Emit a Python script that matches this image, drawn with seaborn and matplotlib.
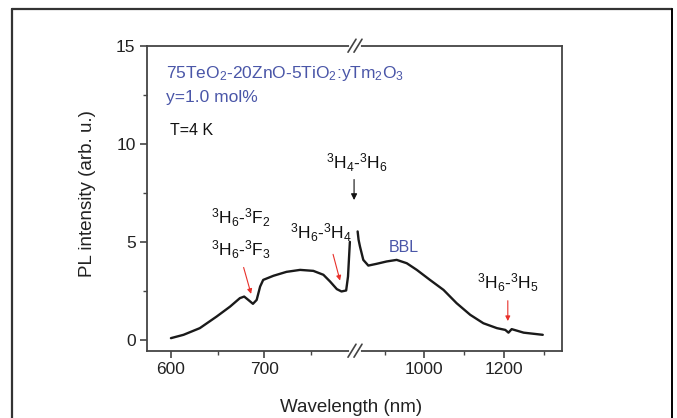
import matplotlib
matplotlib.use("Agg")
import matplotlib.pyplot as plt
import seaborn as sns
import pandas as pd
from matplotlib.lines import Line2D
from matplotlib.ticker import MultipleLocator, FixedLocator

# ---------------- data ----------------
left_wl = [600, 613.5, 631, 649, 663.5, 674, 678.6, 683, 688, 692, 695.7, 699,
           710, 724, 738.6, 752.8, 763.6, 770.7, 778, 783, 788, 790, 792]
left_int = [0.09, 0.26, 0.60, 1.19, 1.70, 2.13, 2.21, 2.04, 1.84, 2.04, 2.72, 3.06,
            3.27, 3.47, 3.57, 3.52, 3.32, 2.98, 2.59, 2.47, 2.52, 3.23, 5.0]
right_wl = [832.6, 835, 838.5, 846.8, 859.4, 880.4, 905.5, 930.6, 955.8, 981, 1014,
            1048, 1081, 1115, 1148, 1182, 1203, 1211, 1219, 1249, 1297]
right_int = [5.53, 5.1, 4.76, 4.08, 3.79, 3.88, 4.00, 4.08, 3.91, 3.57, 3.06,
             2.55, 1.87, 1.28, 0.85, 0.60, 0.51, 0.37, 0.55, 0.37, 0.26]
left_xticks = [600, 700]
right_xticks = [1000, 1200]
yticks = [0, 5, 10, 15]

sns.set_style("ticks")
plt.rcParams['font.family'] = ['Liberation Sans', 'DejaVu Sans']
plt.rcParams['mathtext.fontset'] = 'custom'
plt.rcParams['mathtext.rm'] = 'Liberation Sans'
plt.rcParams['mathtext.it'] = 'Liberation Sans:italic'
plt.rcParams['mathtext.bf'] = 'Liberation Sans:bold'

W, H = 677, 418
fig = plt.figure(figsize=(W / 100, H / 100), dpi=100)

def fx(px):
    return px / W

def fy(py):
    return 1 - py / H

x_left, x_break, x_right = 146.7, 355.0, 562.3
y_top, y_bot = 45.7, 350.7
ax1 = fig.add_axes([fx(x_left), fy(y_bot), fx(x_break - x_left), (y_bot - y_top) / H])
ax2 = fig.add_axes([fx(x_break), fy(y_bot), fx(x_right - x_break), (y_bot - y_top) / H], sharey=ax1)
ax1.patch.set_visible(False)
ax2.patch.set_visible(False)
ax1.set_zorder(3)

axis_col = "#444444"
df_l = pd.DataFrame({"wl": left_wl, "I": left_int})
df_r = pd.DataFrame({"wl": right_wl, "I": right_int})
sns.lineplot(data=df_l, x="wl", y="I", ax=ax1, color="#1a1a1a", lw=1.7, sort=False)
sns.lineplot(data=df_r, x="wl", y="I", ax=ax2, color="#1a1a1a", lw=1.7, sort=False)

ax1.set_xlim(574, 797.5)
ax2.set_xlim(826, 1346)
ax1.set_ylim(-0.55, 15)

for ax in (ax1, ax2):
    ax.set_xlabel("")
    ax.set_ylabel("")
    for s in ax.spines.values():
        s.set_color(axis_col)
        s.set_linewidth(1.3)
    ax.tick_params(which="major", direction="out", length=5, width=1.2, color=axis_col,
                   labelsize=12.5, pad=3, labelcolor="#222222")
    ax.tick_params(which="minor", direction="out", length=3, width=1.0, color=axis_col)

ax1.spines["right"].set_visible(False)
ax2.spines["left"].set_visible(False)
ax1.set_xticks(left_xticks)
ax1.xaxis.set_minor_locator(FixedLocator([650, 750]))
ax2.set_xticks(right_xticks)
ax2.xaxis.set_minor_locator(FixedLocator([900, 1100, 1300]))
ax1.set_yticks(yticks)
ax1.yaxis.set_minor_locator(MultipleLocator(2.5))
ax2.tick_params(axis="y", which="both", left=False, labelleft=False)

# break marks
for yb in (y_top, y_bot):
    fig.add_artist(Line2D([fx(350.5), fx(359.5)], [fy(yb), fy(yb)], color="white", lw=3, zorder=10))
    for dx in (-3.0, 3.0):
        fig.add_artist(Line2D([fx(x_break + dx - 4), fx(x_break + dx + 4)],
                              [fy(yb + 6.5), fy(yb - 6.5)], color=axis_col, lw=1.2, zorder=11))

# outer frame
frame_col = "#333333"
fig.add_artist(Line2D([fx(12), fx(12)], [fy(9), -0.1], color=frame_col, lw=1.6))
fig.add_artist(Line2D([fx(12), fx(672)], [fy(9), fy(9)], color=frame_col, lw=1.6))
fig.add_artist(Line2D([fx(672), fx(672)], [fy(9), -0.1], color="black", lw=1.4))

# axis labels
fig.text(fx(87), fy(193.5), "PL intensity (arb. u.)", rotation=90, ha="center", va="center",
         fontsize=13.5, color="#222222")
fig.text(fx(350.7), fy(407), "Wavelength (nm)", ha="center", va="center",
         fontsize=13.5, color="#222222")

# annotations
blue = "#4a56a8"
ann_fs = 12.5
ax1.text(595, 13.6, r"75TeO$_2$-20ZnO-5TiO$_2$:yTm$_2$O$_3$", color=blue, fontsize=12.5,
         ha="left", va="center")
ax1.text(595, 12.35, "y=1.0 mol%", color=blue, fontsize=12.5, ha="left", va="center")
ax1.text(599, 10.7, "T=4 K", color="#111111", fontsize=11.5, ha="left", va="center")
ax1.text(799.7, 9.03, r"$^3$H$_4$-$^3$H$_6$", color="#111111", fontsize=ann_fs, ha="center", va="center")
ax1.annotate("", xy=(796.5, 6.99), xytext=(796.5, 8.32),
             arrowprops=dict(arrowstyle="-|>", color="#111111", lw=0.8, mutation_scale=9),
             annotation_clip=False)
ax1.text(674.3, 6.22, r"$^3$H$_6$-$^3$F$_2$", color="#111111", fontsize=ann_fs, ha="center", va="center")
ax1.text(674.8, 4.59, r"$^3$H$_6$-$^3$F$_3$", color="#111111", fontsize=ann_fs, ha="center", va="center")
ax1.annotate("", xy=(686.8, 2.21), xytext=(677.2, 3.83),
             arrowprops=dict(arrowstyle="-|>", color="#e8302a", lw=0.8, mutation_scale=7))
ax1.text(760.6, 5.46, r"$^3$H$_6$-$^3$H$_4$", color="#111111", fontsize=ann_fs, ha="center", va="center")
ax1.annotate("", xy=(782.2, 2.89), xytext=(773.2, 4.5),
             arrowprops=dict(arrowstyle="-|>", color="#e8302a", lw=0.8, mutation_scale=7))
ax2.text(949, 4.69, "BBL", color=blue, fontsize=11.5, ha="center", va="center")
ax2.text(1207.8, 2.91, r"$^3$H$_6$-$^3$H$_5$", color="#111111", fontsize=ann_fs, ha="center", va="center")
ax2.annotate("", xy=(1209.3, 0.82), xytext=(1209.3, 2.14),
             arrowprops=dict(arrowstyle="-|>", color="#e8302a", lw=0.8, mutation_scale=7))

fig.savefig("out.png", dpi=100)
